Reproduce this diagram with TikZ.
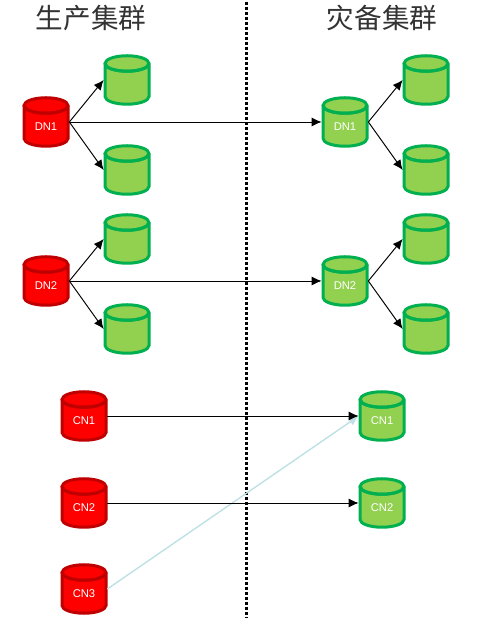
\documentclass[tikz,border=0pt]{standalone}
\usepackage{fontspec}
\setsansfont{Liberation Sans}
\newfontfamily\cjk{Noto Sans CJK SC}
\usetikzlibrary{arrows.meta}
\definecolor{dbred}{RGB}{255,0,0}
\definecolor{dbredline}{RGB}{192,0,0}
\definecolor{dbgreen}{RGB}{146,208,80}
\definecolor{dbgreenline}{RGB}{0,176,80}
\definecolor{backup}{RGB}{190,225,230}
% cylinder first, then a named box on top of it: look, name, position, label
\newcommand{\dbnode}[4]{
        \draw[#1, shift={(#3)}] (-0.44,0.33) -- (-0.44,-0.33) arc[start angle=180, end angle=360, x radius=0.44, y radius=0.155]
            -- (0.44,0.33) arc[start angle=0, end angle=360, x radius=0.44, y radius=0.155];
        \draw[#1, shift={(#3)}, fill=none] (-0.44,0.33) arc[start angle=180, end angle=360, x radius=0.44, y radius=0.155];
        \node[dbbox] (#2) at (#3) {\raisebox{-0.08cm}[1.6ex][0pt]{#4}};
}
\begin{document}
\begin{tikzpicture}[
        dbbox/.style={minimum width=0.92cm, minimum height=1.02cm, inner sep=0pt, text=white,
            font=\sffamily\fontsize{6.4}{7}\selectfont},
        prod/.style={draw=dbredline, fill=dbred, line width=0.06cm},
        standby/.style={draw=dbgreenline, fill=dbgreen, line width=0.06cm},
        title/.style={font=\cjk\fontsize{15.7}{18}\selectfont, text=black!80},
        link/.style={-{Latex[length=0.2cm,width=0.18cm]}, line width=0.55pt, black},
        late/.style={-{Latex[length=0.2cm,width=0.18cm]}, line width=0.8pt, backup}
    ]
        \useasboundingbox (0,0) rectangle (9.88,12.54);
        % === Titles ===
        \node[title] (T1) at (1.82,12.18) {生产集群};
        \node[title] (T2) at (7.64,12.18) {灾备集群};
        % === Divider ===
        \coordinate (top) at (4.93,12.5);
        \coordinate (bottom) at (4.93,0.18);
        \draw[line width=0.06cm, dash pattern=on 0.055cm off 0.045cm] (top) -- (bottom);
        % === DN1 ===
        \dbnode{prod}{P1}{0.92,10.1}{DN1}
        \dbnode{standby}{P1a}{2.54,10.94}{}
        \dbnode{standby}{P1b}{2.54,9.14}{}
        \dbnode{standby}{B1}{6.9,10.1}{DN1}
        \dbnode{standby}{B1a}{8.52,10.94}{}
        \dbnode{standby}{B1b}{8.52,9.14}{}
        \draw[link] (P1.east) -- (P1a.west); \draw[link] (P1.east) -- (P1b.west);
        \draw[link] (B1.east) -- (B1a.west); \draw[link] (B1.east) -- (B1b.west);
        \draw[link] (P1.east) -- (B1.west);
        % === DN2 ===
        \dbnode{prod}{P2}{0.92,6.92}{DN2}
        \dbnode{standby}{P2a}{2.54,7.76}{}
        \dbnode{standby}{P2b}{2.54,5.96}{}
        \dbnode{standby}{B2}{6.9,6.92}{DN2}
        \dbnode{standby}{B2a}{8.52,7.76}{}
        \dbnode{standby}{B2b}{8.52,5.96}{}
        \draw[link] (P2.east) -- (P2a.west); \draw[link] (P2.east) -- (P2b.west);
        \draw[link] (B2.east) -- (B2a.west); \draw[link] (B2.east) -- (B2b.west);
        \draw[link] (P2.east) -- (B2.west);
        % === CN ===
        \dbnode{prod}{C1}{1.68,4.22}{CN1}
        \dbnode{prod}{C2}{1.68,2.48}{CN2}
        \dbnode{prod}{C3}{1.68,0.76}{CN3}
        \dbnode{standby}{D1}{7.64,4.22}{CN1}
        \dbnode{standby}{D2}{7.64,2.48}{CN2}
        \draw[late] (C3.east) -- (D1.west);
        \draw[link] (C1.east) -- (D1.west);
        \draw[link] (C2.east) -- (D2.west);
\end{tikzpicture}
\end{document}
